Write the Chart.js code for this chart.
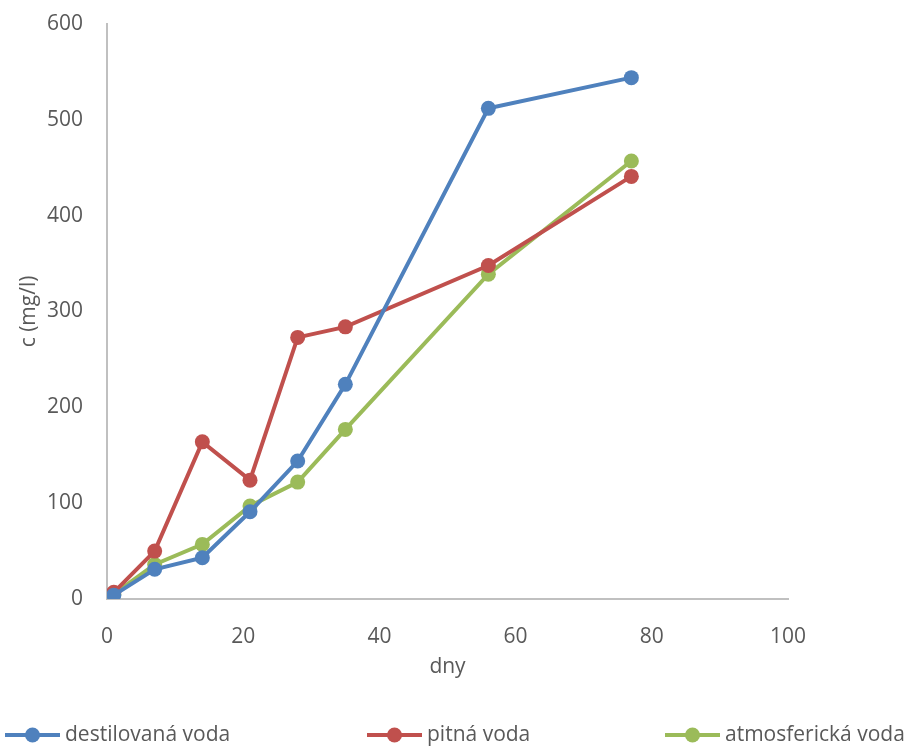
<!DOCTYPE html>
<html lang="cs">
<head>
    <meta charset="UTF-8">
    <title>c (mg/l) vs dny</title>
    <script src="https://cdn.jsdelivr.net/npm/chart.js"></script>
    <style>
        body { margin: 0; padding: 0; background: #ffffff; }
        .chart-wrapper { position: relative; width: 904px; height: 747px; }
    </style>
</head>
<body>
    <div class="chart-wrapper">
        <canvas id="chart"></canvas>
    </div>
    <script>
        // data
        var days = [1, 7, 14, 21, 28, 35, 56, 77];
        var destilovana = [4, 31, 43, 91, 144, 224, 512, 544];
        var pitna = [7, 50, 164, 124, 273, 284, 348, 441];
        var atmosfericka = [5, 36, 57, 97, 122, 177, 339, 457];
        var seriesNames = ['destilovaná voda', 'pitná voda', 'atmosferická voda'];
        var colors = ['#4f81bd', '#c0504d', '#9bbb59'];

        var textColor = '#595959';
        var fontFamily = "'Open Sans', sans-serif";
        var fontSize = 21;

        function toPoints(values) {
            return days.map(function(d, i) { return { x: d, y: values[i] }; });
        }

        var datasets = [destilovana, pitna, atmosfericka].map(function(values, i) {
            return {
                label: seriesNames[i],
                data: toPoints(values),
                borderColor: colors[i],
                backgroundColor: colors[i],
                borderWidth: 4,
                pointRadius: 7.5,
                pointHoverRadius: 7.5,
                pointBorderWidth: 0,
                showLine: true,
                tension: 0
            };
        });

        // bottom legend spread across the width, like the original
        var legendX = [5, 367, 665];
        var spreadLegend = {
            id: 'spreadLegend',
            afterDraw: function(chart) {
                var ctx = chart.ctx;
                var y = chart.height - 12;
                ctx.save();
                ctx.font = fontSize + 'px ' + fontFamily;
                ctx.textBaseline = 'middle';
                chart.data.datasets.forEach(function(ds, i) {
                    var x = legendX[i];
                    ctx.strokeStyle = ds.borderColor;
                    ctx.lineWidth = 4;
                    ctx.beginPath();
                    ctx.moveTo(x, y);
                    ctx.lineTo(x + 55, y);
                    ctx.stroke();
                    ctx.fillStyle = ds.borderColor;
                    ctx.beginPath();
                    ctx.arc(x + 27.5, y, 7.5, 0, Math.PI * 2);
                    ctx.fill();
                    ctx.fillStyle = textColor;
                    ctx.fillText(ds.label, x + 60, y);
                });
                ctx.restore();
            }
        };

        var ctx = document.getElementById('chart').getContext('2d');
        var chart = new Chart(ctx, {
            type: 'scatter',
            data: { datasets: datasets },
            options: {
                responsive: true,
                maintainAspectRatio: false,
                animation: false,
                layout: {
                    padding: { left: 16, right: 116, top: 24, bottom: 67 }
                },
                scales: {
                    x: {
                        min: 0,
                        max: 100,
                        afterFit: function(scale) { scale.height = 81; },
                        ticks: {
                            stepSize: 20,
                            color: textColor,
                            padding: 25,
                            font: { family: fontFamily, size: fontSize }
                        },
                        grid: { display: false, drawTicks: false },
                        border: { color: '#c0c0c0', width: 2 },
                        title: {
                            display: true,
                            text: 'dny',
                            color: textColor,
                            padding: 0,
                            font: { family: fontFamily, size: fontSize }
                        }
                    },
                    y: {
                        min: 0,
                        max: 600,
                        afterFit: function(scale) {
                            scale.width = 91;
                            scale.paddingTop = 0;
                            scale.paddingBottom = 0;
                        },
                        ticks: {
                            stepSize: 100,
                            color: textColor,
                            padding: 24,
                            font: { family: fontFamily, size: fontSize }
                        },
                        grid: { display: false, drawTicks: false },
                        border: { color: '#c0c0c0', width: 2 },
                        title: {
                            display: true,
                            text: 'c (mg/l)',
                            color: textColor,
                            padding: 0,
                            font: { family: fontFamily, size: fontSize }
                        }
                    }
                },
                plugins: {
                    legend: { display: false },
                    tooltip: { enabled: false }
                }
            },
            plugins: [spreadLegend]
        });
    </script>
</body>
</html>
